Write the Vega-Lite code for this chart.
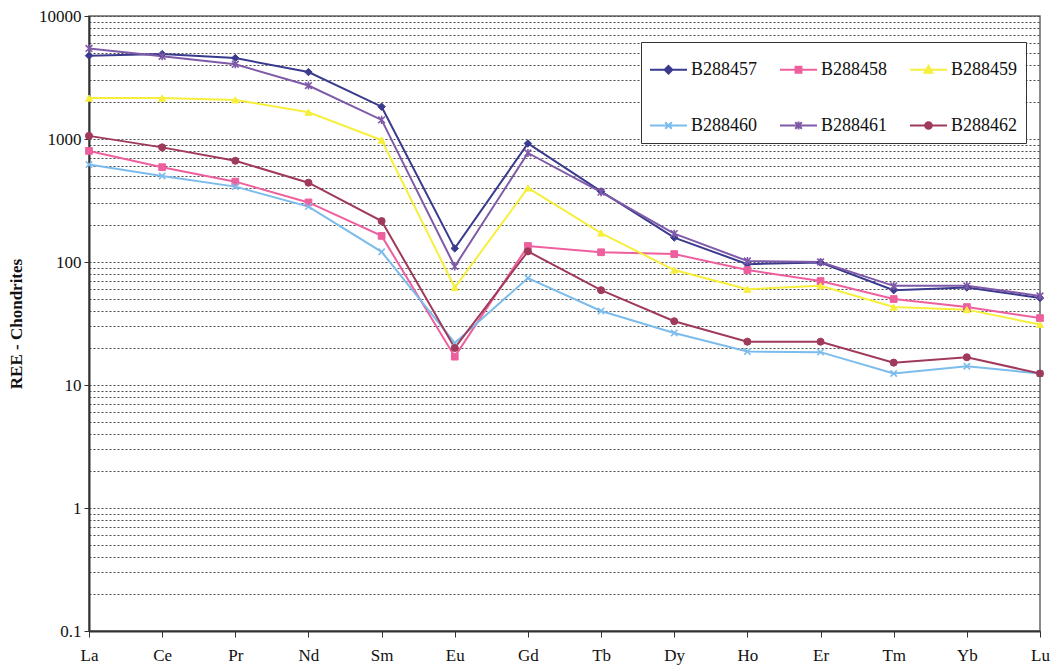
{
  "$schema": "https://vega.github.io/schema/vega-lite/v6.json",
  "width": 951,
  "height": 615,
  "autosize": "none",
  "padding": {"left": 89, "top": 16, "right": 12, "bottom": 37},
  "background": "white",
  "config": {
    "font": "Liberation Serif",
    "view": {"stroke": "#666", "strokeWidth": 1.5},
    "legend": {"labelFont": "Liberation Serif", "labelFontSize": 18, "labelColor": "#111"}
  },
  "data": {
    "values": [
      {"sample": "B288457", "ree": "La", "value": 4760}, {"sample": "B288457", "ree": "Ce", "value": 4900}, {"sample": "B288457", "ree": "Pr", "value": 4550}, {"sample": "B288457", "ree": "Nd", "value": 3500}, {"sample": "B288457", "ree": "Sm", "value": 1830}, {"sample": "B288457", "ree": "Eu", "value": 129}, {"sample": "B288457", "ree": "Gd", "value": 920}, {"sample": "B288457", "ree": "Tb", "value": 375}, {"sample": "B288457", "ree": "Dy", "value": 158}, {"sample": "B288457", "ree": "Ho", "value": 96}, {"sample": "B288457", "ree": "Er", "value": 99}, {"sample": "B288457", "ree": "Tm", "value": 59}, {"sample": "B288457", "ree": "Yb", "value": 62}, {"sample": "B288457", "ree": "Lu", "value": 51},
      {"sample": "B288458", "ree": "La", "value": 800}, {"sample": "B288458", "ree": "Ce", "value": 590}, {"sample": "B288458", "ree": "Pr", "value": 450}, {"sample": "B288458", "ree": "Nd", "value": 305}, {"sample": "B288458", "ree": "Sm", "value": 163}, {"sample": "B288458", "ree": "Eu", "value": 17}, {"sample": "B288458", "ree": "Gd", "value": 135}, {"sample": "B288458", "ree": "Tb", "value": 120}, {"sample": "B288458", "ree": "Dy", "value": 116}, {"sample": "B288458", "ree": "Ho", "value": 86}, {"sample": "B288458", "ree": "Er", "value": 70}, {"sample": "B288458", "ree": "Tm", "value": 50}, {"sample": "B288458", "ree": "Yb", "value": 43}, {"sample": "B288458", "ree": "Lu", "value": 35},
      {"sample": "B288459", "ree": "La", "value": 2150}, {"sample": "B288459", "ree": "Ce", "value": 2150}, {"sample": "B288459", "ree": "Pr", "value": 2080}, {"sample": "B288459", "ree": "Nd", "value": 1650}, {"sample": "B288459", "ree": "Sm", "value": 980}, {"sample": "B288459", "ree": "Eu", "value": 62}, {"sample": "B288459", "ree": "Gd", "value": 400}, {"sample": "B288459", "ree": "Tb", "value": 172}, {"sample": "B288459", "ree": "Dy", "value": 86}, {"sample": "B288459", "ree": "Ho", "value": 60}, {"sample": "B288459", "ree": "Er", "value": 64}, {"sample": "B288459", "ree": "Tm", "value": 43}, {"sample": "B288459", "ree": "Yb", "value": 41}, {"sample": "B288459", "ree": "Lu", "value": 31},
      {"sample": "B288460", "ree": "La", "value": 620}, {"sample": "B288460", "ree": "Ce", "value": 500}, {"sample": "B288460", "ree": "Pr", "value": 410}, {"sample": "B288460", "ree": "Nd", "value": 282}, {"sample": "B288460", "ree": "Sm", "value": 121}, {"sample": "B288460", "ree": "Eu", "value": 22}, {"sample": "B288460", "ree": "Gd", "value": 74}, {"sample": "B288460", "ree": "Tb", "value": 40}, {"sample": "B288460", "ree": "Dy", "value": 26.5}, {"sample": "B288460", "ree": "Ho", "value": 18.7}, {"sample": "B288460", "ree": "Er", "value": 18.5}, {"sample": "B288460", "ree": "Tm", "value": 12.4}, {"sample": "B288460", "ree": "Yb", "value": 14.2}, {"sample": "B288460", "ree": "Lu", "value": 12.4},
      {"sample": "B288461", "ree": "La", "value": 5450}, {"sample": "B288461", "ree": "Ce", "value": 4700}, {"sample": "B288461", "ree": "Pr", "value": 4050}, {"sample": "B288461", "ree": "Nd", "value": 2720}, {"sample": "B288461", "ree": "Sm", "value": 1430}, {"sample": "B288461", "ree": "Eu", "value": 92}, {"sample": "B288461", "ree": "Gd", "value": 770}, {"sample": "B288461", "ree": "Tb", "value": 370}, {"sample": "B288461", "ree": "Dy", "value": 170}, {"sample": "B288461", "ree": "Ho", "value": 102}, {"sample": "B288461", "ree": "Er", "value": 100}, {"sample": "B288461", "ree": "Tm", "value": 64}, {"sample": "B288461", "ree": "Yb", "value": 64}, {"sample": "B288461", "ree": "Lu", "value": 53},
      {"sample": "B288462", "ree": "La", "value": 1060}, {"sample": "B288462", "ree": "Ce", "value": 855}, {"sample": "B288462", "ree": "Pr", "value": 665}, {"sample": "B288462", "ree": "Nd", "value": 441}, {"sample": "B288462", "ree": "Sm", "value": 215}, {"sample": "B288462", "ree": "Eu", "value": 20}, {"sample": "B288462", "ree": "Gd", "value": 122}, {"sample": "B288462", "ree": "Tb", "value": 59}, {"sample": "B288462", "ree": "Dy", "value": 33}, {"sample": "B288462", "ree": "Ho", "value": 22.5}, {"sample": "B288462", "ree": "Er", "value": 22.5}, {"sample": "B288462", "ree": "Tm", "value": 15.2}, {"sample": "B288462", "ree": "Yb", "value": 16.8}, {"sample": "B288462", "ree": "Lu", "value": 12.4}
    ]
  },
  "encoding": {
    "x": {
      "field": "ree", "type": "ordinal",
      "scale": {"type": "point", "padding": 0, "domain": ["La","Ce","Pr","Nd","Sm","Eu","Gd","Tb","Dy","Ho","Er","Tm","Yb","Lu"]},
      "axis": {"title": null, "labelAngle": 0, "labelFont": "Liberation Serif", "labelFontSize": 17, "labelColor": "#111", "labelPadding": 10, "tickSize": 6, "tickColor": "#333", "domainColor": "#333", "domainWidth": 2, "grid": false}
    },
    "y": {
      "field": "value", "type": "quantitative",
      "scale": {"type": "log", "domain": [0.1, 10000], "nice": false},
      "axis": {
        "title": "REE - Chondrites",
        "titleFont": "Liberation Serif", "titleFontSize": 17, "titleFontWeight": "bold", "titleColor": "#111",
        "titleX": -64,
        "values": [0.1,0.2,0.3,0.4,0.5,0.6,0.7,0.8,0.9,1,2,3,4,5,6,7,8,9,10,20,30,40,50,60,70,80,90,100,200,300,400,500,600,700,800,900,1000,2000,3000,4000,5000,6000,7000,8000,9000,10000],
        "labelExpr": "abs(log(datum.value)/LN10 - round(log(datum.value)/LN10)) < 0.001 ? format(datum.value, '~g') : ''",
        "labelOverlap": false, "labelBound": false,
        "labelFont": "Liberation Serif", "labelFontSize": 17, "labelColor": "#111", "labelPadding": 3,
        "tickSize": 5, "tickColor": "#333",
        "tickOpacity": {"condition": {"test": "abs(log(datum.value)/LN10 - round(log(datum.value)/LN10)) < 0.001", "value": 1}, "value": 0},
        "domainColor": "#333", "domainWidth": 2,
        "grid": true, "gridDash": [2, 2], "gridColor": "#4a4a4a", "gridWidth": 1.2
      }
    }
  },
  "layer": [
    {
      "mark": {"type": "line", "strokeWidth": 2},
      "encoding": {
        "color": {"field": "sample", "type": "nominal",
          "scale": {"domain": ["B288457","B288458","B288459","B288460","B288461","B288462"], "range": ["#3a3a8e","#ee5f9e","#f6ef3c","#7cbcec","#7f5aa8","#a03a5a"]}},
        "detail": {"field": "sample"}
      }
    },
    {
      "transform": [{"filter": {"field": "sample", "equal": "B288457"}}],
      "mark": {"type": "point", "shape": "diamond", "filled": true, "size": 55, "opacity": 1, "fill": "#3a3a8e", "stroke": "#3a3a8e", "strokeWidth": 1}
    },
    {
      "transform": [{"filter": {"field": "sample", "equal": "B288458"}}],
      "mark": {"type": "point", "shape": "square", "filled": true, "size": 45, "opacity": 1, "fill": "#ee5f9e", "stroke": "#ee5f9e", "strokeWidth": 1}
    },
    {
      "transform": [{"filter": {"field": "sample", "equal": "B288459"}}],
      "mark": {"type": "point", "shape": "triangle-up", "filled": true, "size": 50, "opacity": 1, "fill": "#f6ef3c", "stroke": "#f6ef3c", "strokeWidth": 1}
    },
    {
      "transform": [{"filter": {"field": "sample", "equal": "B288460"}}],
      "mark": {"type": "point", "shape": "M-1,-1L1,1M-1,1L1,-1", "filled": false, "size": 40, "opacity": 1, "stroke": "#7cbcec", "strokeWidth": 1.6}
    },
    {
      "transform": [{"filter": {"field": "sample", "equal": "B288461"}}],
      "mark": {"type": "point", "shape": "M-1,-1L1,1M-1,1L1,-1M0,-1.2L0,1.2", "filled": false, "size": 45, "opacity": 1, "stroke": "#7f5aa8", "strokeWidth": 1.6}
    },
    {
      "transform": [{"filter": {"field": "sample", "equal": "B288462"}}],
      "mark": {"type": "point", "shape": "circle", "filled": true, "size": 50, "opacity": 1, "fill": "#a03a5a", "stroke": "#a03a5a", "strokeWidth": 1}
    },
    {
      "mark": {"type": "point", "filled": true, "opacity": 0, "size": 10, "strokeWidth": 2},
      "encoding": {
        "color": {"field": "sample", "type": "nominal",
          "scale": {"domain": ["B288457","B288458","B288459","B288460","B288461","B288462"], "range": ["#3a3a8e","#ee5f9e","#f6ef3c","#7cbcec","#7f5aa8","#a03a5a"]},
          "legend": {"title": null, "orient": "none", "legendX": 552, "legendY": 26, "direction": "horizontal", "columns": 3, "symbolSize": 1369, "symbolStrokeWidth": 2, "symbolOpacity": 1, "labelFont": "Liberation Serif", "labelFontSize": 18, "labelColor": "#111", "labelOffset": 3, "columnPadding": 18, "rowPadding": 27, "padding": 8, "fillColor": "white", "strokeColor": "#333", "labelLimit": 200}},
        "stroke": {"field": "sample", "type": "nominal",
          "scale": {"domain": ["B288457","B288458","B288459","B288460","B288461","B288462"], "range": ["#3a3a8e","#ee5f9e","#f6ef3c","#7cbcec","#7f5aa8","#a03a5a"]},
          "legend": {"title": null, "orient": "none", "legendX": 552, "legendY": 26, "direction": "horizontal", "columns": 3, "symbolSize": 1369, "symbolStrokeWidth": 2, "symbolOpacity": 1, "labelFont": "Liberation Serif", "labelFontSize": 18, "labelColor": "#111", "labelOffset": 3, "columnPadding": 18, "rowPadding": 27, "padding": 8, "fillColor": "white", "strokeColor": "#333", "labelLimit": 200}},
        "shape": {"field": "sample", "type": "nominal",
          "scale": {"domain": ["B288457","B288458","B288459","B288460","B288461","B288462"], "range": [
            "M-1,0L1,0M0,-0.21L0.21,0L0,0.21L-0.21,0Z",
            "M-1,0L1,0M-0.16,-0.16L0.16,-0.16L0.16,0.16L-0.16,0.16Z",
            "M-1,0L1,0M0,-0.2L0.21,0.16L-0.21,0.16Z",
            "M-1,0L1,0M-0.18,-0.18L0.18,0.18M-0.18,0.18L0.18,-0.18",
            "M-1,0L1,0M-0.18,-0.18L0.18,0.18M-0.18,0.18L0.18,-0.18M0,-0.22L0,0.22",
            "M-1,0L1,0M-0.18,0A0.18,0.18,0,1,0,0.18,0A0.18,0.18,0,1,0,-0.18,0Z"
          ]},
          "legend": {"title": null, "orient": "none", "legendX": 552, "legendY": 26, "direction": "horizontal", "columns": 3, "symbolSize": 1369, "symbolStrokeWidth": 2, "symbolOpacity": 1, "labelFont": "Liberation Serif", "labelFontSize": 18, "labelColor": "#111", "labelOffset": 3, "columnPadding": 18, "rowPadding": 27, "padding": 8, "fillColor": "white", "strokeColor": "#333", "labelLimit": 200}}
      }
    }
  ]
}
